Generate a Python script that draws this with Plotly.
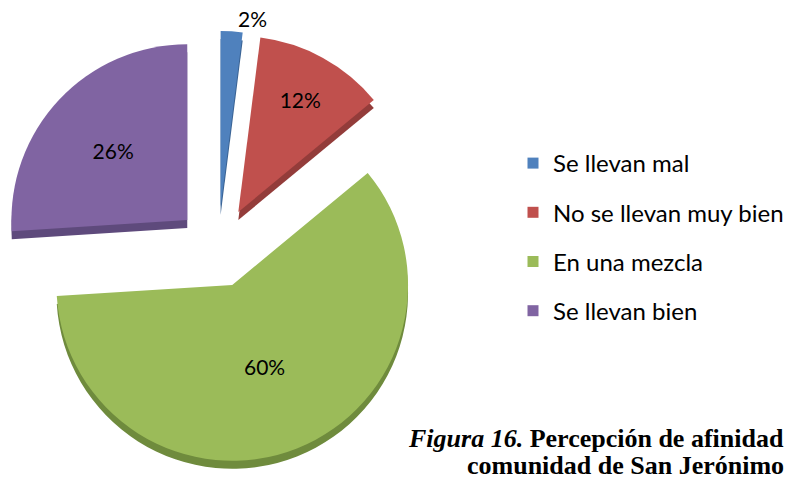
import plotly.graph_objects as go

labels = ["Se llevan mal", "No se llevan muy bien", "En una mezcla", "Se llevan bien"]
values = [2, 12, 60, 26]
colors = ["#4F81BD", "#C0504D", "#9BBB59", "#8064A2"]
side_colors = ["#3A6394", "#933C3A", "#6F8B3D", "#5E4A7C"]
pulls = [0.24, 0.24, 0.22, 0.24]
text_pos = ["outside", "inside", "inside", "inside"]

W, H = 792, 479
depth = 8
y_top = 0.927

fig = go.Figure()
# 3D side (depth) of the pie
fig.add_trace(go.Pie(
    labels=labels, values=values, sort=False, direction="clockwise", rotation=0,
    marker=dict(colors=side_colors, line=dict(width=0)),
    pull=pulls, textinfo="none", hoverinfo="skip", showlegend=False,
    domain=dict(x=[0, 436 / W], y=[0, y_top]),
))
# top face
fig.add_trace(go.Pie(
    labels=labels, values=values, sort=False, direction="clockwise", rotation=0,
    marker=dict(colors=colors, line=dict(width=0)),
    pull=pulls, textinfo="percent", textposition=text_pos,
    texttemplate="%{percent:.0%}",
    textfont=dict(family="Lato", size=21, color="black"),
    insidetextorientation="horizontal",
    showlegend=False,
    domain=dict(x=[0, 436 / W], y=[depth / H, y_top + depth / H]),
))

for lab, col in zip(labels, colors):
    fig.add_trace(go.Scatter(
        x=[None], y=[None], mode="markers", name=lab, legendgroup=lab,
        marker=dict(symbol="square", size=11, color=col),
    ))

fig.update_layout(
    width=W, height=H,
    margin=dict(l=0, r=0, t=0, b=0, autoexpand=False),
    paper_bgcolor="white", plot_bgcolor="white",
    xaxis=dict(visible=False), yaxis=dict(visible=False),
    legend=dict(
        x=513 / W, y=1 - 141 / H, xanchor="left", yanchor="top",
        font=dict(family="Lato", size=24, color="black"),
        tracegroupgap=15, traceorder="grouped",
        bgcolor="rgba(0,0,0,0)",
    ),
)

fig.add_annotation(
    x=406 / W, y=1 - 438 / H, xref="paper", yref="paper", xanchor="left", yanchor="middle",
    text="<b><i>Figura 16.</i> Percepción de afinidad</b>",
    showarrow=False, font=dict(family="Liberation Serif", size=26, color="black"),
)
fig.add_annotation(
    x=465 / W, y=1 - 465 / H, xref="paper", yref="paper", xanchor="left", yanchor="middle",
    text="<b>comunidad de San Jerónimo</b>",
    showarrow=False, font=dict(family="Liberation Serif", size=26, color="black"),
)

fig.write_html("out.html", config={"displayModeBar": False},
               post_script="document.body.style.margin='0';")
